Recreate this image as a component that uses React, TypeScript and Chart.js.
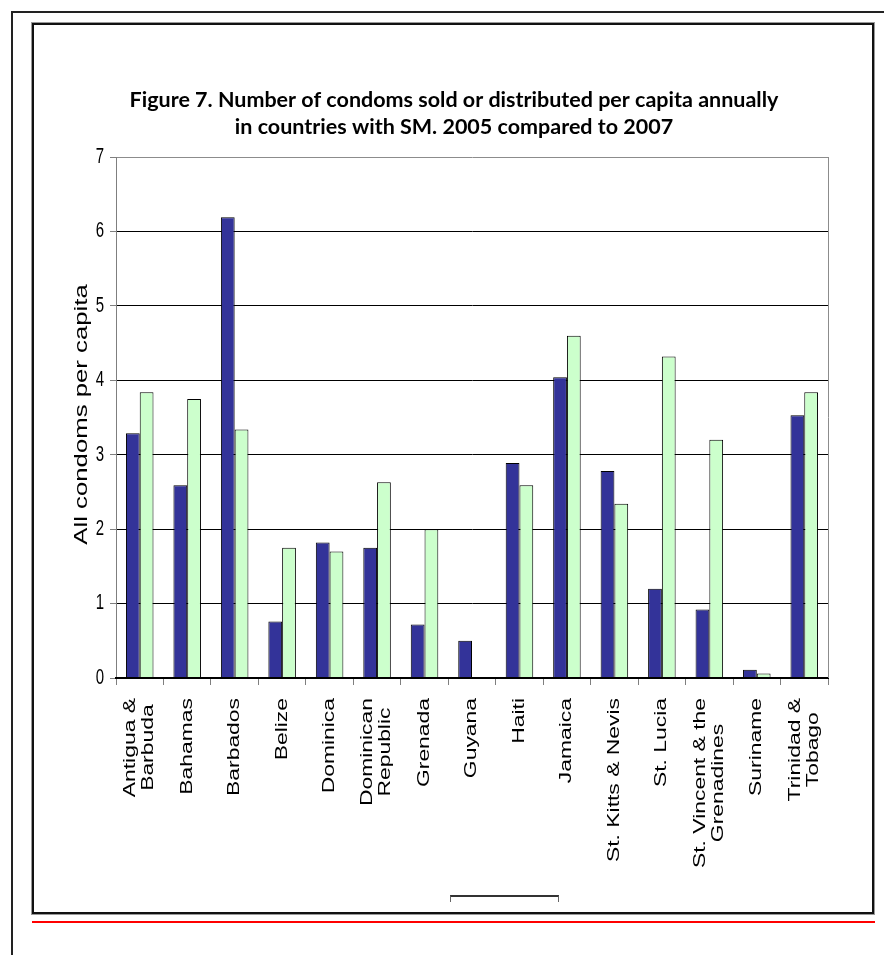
import { useEffect, useRef } from "react";
import { Chart, registerables } from "chart.js";

Chart.register(...registerables);

// Country names (multi-line where the label wraps)
const countries: string[][] = [
  ["Antigua &", "Barbuda"],
  ["Bahamas"],
  ["Barbados"],
  ["Belize"],
  ["Dominica"],
  ["Dominican", "Republic"],
  ["Grenada"],
  ["Guyana"],
  ["Haiti"],
  ["Jamaica"],
  ["St. Kitts & Nevis"],
  ["St. Lucia"],
  ["St. Vincent & the", "Grenadines"],
  ["Suriname"],
  ["Trinidad &", "Tobago"],
];

// Condoms per capita, 2005
const values2005 = [3.29, 2.59, 6.19, 0.76, 1.82, 1.75, 0.72, 0.5, 2.89, 4.04, 2.78, 1.2, 0.92, 0.11, 3.53];
// Condoms per capita, 2007
const values2007 = [3.84, 3.75, 3.34, 1.75, 1.7, 2.63, 2.0, 0, 2.59, 4.6, 2.34, 4.32, 3.2, 0.06, 3.84];

const yTickValues = [0, 1, 2, 3, 4, 5, 6, 7];
const titleLines = [
  "Figure 7. Number of condoms sold or distributed per capita annually",
  "in countries with SM. 2005 compared to 2007",
];
const yAxisTitle = "All condoms per capita";

const SANS = '"Liberation Sans", Arial, sans-serif';
const STRETCH = 1.43;

function drawText(
  ctx: CanvasRenderingContext2D,
  text: string,
  x: number,
  y: number,
  sy: number,
  rotate: boolean,
  align: CanvasTextAlign
) {
  ctx.save();
  ctx.translate(x, y);
  ctx.scale(1, sy);
  if (rotate) ctx.rotate(-Math.PI / 2);
  ctx.textAlign = align;
  ctx.textBaseline = "middle";
  ctx.fillText(text, 0, 0);
  ctx.restore();
}

const decorPlugin = {
  id: "decor",
  afterDraw(chart: any) {
    const ctx: CanvasRenderingContext2D = chart.ctx;
    const a = chart.chartArea;
    const xs = chart.scales.x;
    const ys = chart.scales.y;

    // plot frame: right edge
    ctx.save();
    ctx.strokeStyle = "#8c8c8c";
    ctx.lineWidth = 1;
    ctx.beginPath();
    ctx.moveTo(a.right + 0.5, a.top);
    ctx.lineTo(a.right + 0.5, a.bottom);
    ctx.stroke();
    ctx.restore();

    ctx.save();
    ctx.fillStyle = "#000";

    // title
    ctx.font = 'bold 21.5px Lato, "Open Sans", sans-serif';
    drawText(ctx, titleLines[0], 419, 74, 1.0, false, "center");
    drawText(ctx, titleLines[1], 419, 101, 1.0, false, "center");

    // y tick labels
    ctx.font = `15px ${SANS}`;
    yTickValues.forEach((v) => {
      drawText(ctx, String(v), a.left - 12, ys.getPixelForValue(v), STRETCH, false, "right");
    });

    // y axis title
    ctx.font = `18px ${SANS}`;
    drawText(ctx, yAxisTitle, 47, (a.top + a.bottom) / 2 - 3, STRETCH, true, "center");

    // category labels, rotated, lines centred within the block
    ctx.font = `16px ${SANS}`;
    const top = a.bottom + 20;
    const lineGap = 18;
    countries.forEach((lines, i) => {
      const cx = xs.getPixelForValue(i);
      const maxW = Math.max(...lines.map((l) => ctx.measureText(l).width));
      const cy = top + (maxW * STRETCH) / 2;
      lines.forEach((l, k) => {
        const off = (k - (lines.length - 1) / 2) * lineGap;
        drawText(ctx, l, cx + off, cy, STRETCH, true, "center");
      });
    });
    ctx.restore();
  },
};

export default function App() {
  const ref = useRef<HTMLCanvasElement>(null);

  useEffect(() => {
    if (!ref.current) return;
    const chart = new Chart(ref.current, {
      type: "bar",
      data: {
        labels: countries.map((c) => c.join(" ")),
        datasets: [
          {
            label: "2005",
            data: values2005,
            backgroundColor: "#333399",
            borderColor: "#000000",
            borderWidth: 1,
            categoryPercentage: 0.58,
            barPercentage: 1,
          },
          {
            label: "2007",
            data: values2007,
            backgroundColor: "#CCFFCC",
            borderColor: "#000000",
            borderWidth: 1,
            categoryPercentage: 0.58,
            barPercentage: 1,
          },
        ],
      },
      options: {
        responsive: false,
        animation: false,
        layout: { padding: { top: 131, right: 43, left: 0, bottom: 0 } },
        plugins: {
          legend: { display: false },
          title: { display: false },
          tooltip: { enabled: false },
        },
        scales: {
          x: {
            offset: true,
            grid: {
              offset: true,
              drawOnChartArea: false,
              drawTicks: true,
              tickLength: 7,
              color: "#7f7f7f",
              lineWidth: 1,
            },
            border: { display: true, color: "#000000", width: 2, z: 1 },
            ticks: { display: false },
            afterFit: (s: any) => {
              s.height = 233;
            },
          },
          y: {
            min: 0,
            max: 7,
            ticks: { stepSize: 1, display: false },
            grid: {
              color: (c: any) => (c.tick && c.tick.value === 7 ? "#8c8c8c" : "#000000"),
              tickColor: "#7f7f7f",
              tickLength: 6,
              lineWidth: 1,
            },
            border: { color: "#7f7f7f", width: 1 },
            afterFit: (s: any) => {
              s.width = 81;
            },
          },
        },
      },
      plugins: [decorPlugin],
    });
    return () => chart.destroy();
  }, []);

  return (
    <div style={{ position: "absolute", left: 0, top: 0, width: 884, height: 955, background: "#fff" }}>
      {/* outer page frame */}
      <div style={{ position: "absolute", left: 11, top: 11, width: 2, height: 944, background: "#222" }} />
      <div style={{ position: "absolute", left: 11, top: 11, width: 873, height: 2, background: "#222" }} />
      {/* chart box */}
      <div
        style={{
          position: "absolute",
          left: 32,
          top: 23,
          width: 838,
          height: 887,
          border: "2px solid #111",
          outline: "1px solid #999",
        }}
      />
      <canvas
        ref={ref}
        width={836}
        height={885}
        style={{ position: "absolute", left: 35, top: 26, width: 836, height: 885 }}
      />
      {/* small bracket below the axis labels */}
      <div
        style={{
          position: "absolute",
          left: 450,
          top: 895,
          width: 107,
          height: 5,
          borderTop: "2px solid #333",
          borderLeft: "1px solid #666",
          borderRight: "1px solid #666",
        }}
      />
      {/* red rule */}
      <div style={{ position: "absolute", left: 32, top: 921, width: 843, height: 2, background: "#ff0000" }} />
    </div>
  );
}
